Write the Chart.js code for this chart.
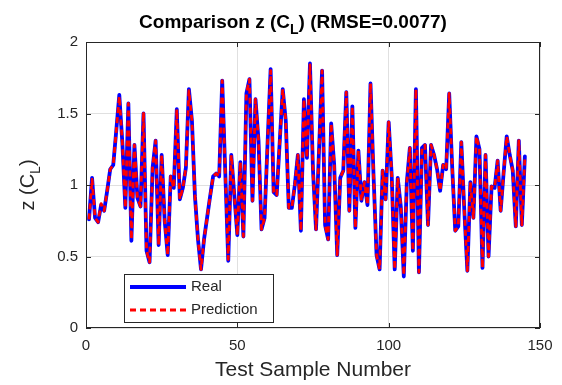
<!DOCTYPE html>
<html>
<head>
<meta charset="utf-8">
<script src="https://cdn.jsdelivr.net/npm/chart.js@4/dist/chart.umd.min.js"></script>
<style>
  html, body { margin: 0; padding: 0; background: #fff; }
  #wrap { width: 562px; height: 385px; }
</style>
</head>
<body>
<div id="wrap"><canvas id="myChart" width="562" height="385"></canvas></div>
<script>
// data
const realValues = [
  0.76, 1.05, 0.77, 0.74, 0.86, 0.82, 0.96, 1.11, 1.14, 1.38,
  1.63, 1.30, 0.84, 1.57, 0.61, 1.28, 0.91, 0.85, 1.50, 0.54,
  0.46, 1.12, 1.31, 0.58, 1.21, 0.75, 0.51, 1.06, 0.98, 1.53,
  0.90, 0.98, 1.12, 1.67, 1.45, 0.92, 0.62, 0.41, 0.62, 0.77,
  0.92, 1.06, 1.08, 1.06, 1.73, 1.10, 0.47, 1.21, 0.93, 0.65,
  1.16, 0.64, 1.64, 1.74, 0.89, 1.60, 1.31, 0.69, 0.77, 1.30,
  1.81, 0.95, 0.93, 1.30, 1.67, 1.45, 0.84, 0.84, 1.00, 1.21,
  0.68, 1.60, 1.19, 1.85, 1.10, 0.69, 1.25, 1.80, 0.72, 0.62,
  1.43, 1.14, 0.51, 1.05, 1.10, 1.65, 0.82, 1.55, 0.70, 1.24,
  0.89, 1.02, 0.86, 1.71, 1.07, 0.51, 0.41, 1.10, 0.90, 1.44,
  1.07, 0.41, 1.05, 0.85, 0.36, 1.02, 1.26, 0.54, 1.67, 0.39,
  1.26, 1.28, 0.72, 1.28, 1.21, 1.11, 0.96, 1.14, 1.11, 1.64,
  1.12, 0.68, 0.71, 1.30, 0.82, 0.40, 1.02, 0.77, 1.34, 1.25,
  0.42, 1.21, 0.50, 0.99, 0.98, 1.17, 0.82, 1.09, 1.34, 1.21,
  1.10, 0.71, 1.31, 0.72, 1.20
];
const predValues = [
  0.76, 1.04, 0.77, 0.74, 0.87, 0.82, 0.96, 1.11, 1.14, 1.38,
  1.62, 1.30, 0.84, 1.57, 0.62, 1.28, 0.91, 0.85, 1.51, 0.54,
  0.46, 1.12, 1.31, 0.58, 1.21, 0.75, 0.51, 1.06, 0.98, 1.53,
  0.90, 0.98, 1.12, 1.66, 1.45, 0.92, 0.62, 0.41, 0.62, 0.77,
  0.92, 1.06, 1.08, 1.06, 1.73, 1.10, 0.48, 1.21, 0.93, 0.65,
  1.16, 0.64, 1.64, 1.74, 0.89, 1.60, 1.31, 0.69, 0.77, 1.30,
  1.80, 0.95, 0.93, 1.30, 1.67, 1.45, 0.84, 0.84, 1.00, 1.21,
  0.68, 1.60, 1.19, 1.84, 1.10, 0.69, 1.25, 1.80, 0.72, 0.62,
  1.43, 1.14, 0.51, 1.05, 1.10, 1.65, 0.82, 1.55, 0.70, 1.24,
  0.89, 1.02, 0.86, 1.71, 1.07, 0.51, 0.41, 1.10, 0.90, 1.44,
  1.07, 0.41, 1.05, 0.85, 0.37, 1.02, 1.26, 0.54, 1.67, 0.39,
  1.26, 1.28, 0.72, 1.28, 1.21, 1.11, 0.96, 1.14, 1.11, 1.64,
  1.12, 0.68, 0.71, 1.30, 0.82, 0.40, 1.02, 0.77, 1.34, 1.25,
  0.42, 1.21, 0.50, 0.99, 0.98, 1.17, 0.82, 1.09, 1.34, 1.21,
  1.10, 0.71, 1.31, 0.72, 1.20
];
const sampleNumbers = realValues.map((v, i) => i + 1);
const xTicks = [0, 50, 100, 150];
const yTicks = [0, 0.5, 1, 1.5, 2];

const FONT = "'Liberation Sans', Arial, Helvetica, sans-serif";
const INK = '#262626';

// draws text pieces, some of them as subscripts
function drawRich(ctx, parts, size, weight, x, y) {
  const subSize = Math.round(size * 0.72);
  let w = 0;
  parts.forEach(p => {
    ctx.font = weight + ' ' + (p.sub ? subSize : size) + 'px ' + FONT;
    p.w = ctx.measureText(p.t).width;
    w += p.w;
  });
  let cx = x - w / 2;
  parts.forEach(p => {
    ctx.font = weight + ' ' + (p.sub ? subSize : size) + 'px ' + FONT;
    ctx.fillText(p.t, cx, p.sub ? y + size * 0.32 : y);
    cx += p.w;
  });
}

const matlabLook = {
  id: 'matlabLook',
  afterDatasetsDraw(chart) {
    const { ctx, chartArea: a, scales: { x, y } } = chart;
    ctx.save();
    ctx.strokeStyle = INK;
    ctx.lineWidth = 1;

    // box around axes
    ctx.strokeRect(Math.round(a.left) + 0.5, Math.round(a.top) + 0.5,
      Math.round(a.right - a.left) - 1, Math.round(a.bottom - a.top) - 1);

    // inward ticks
    ctx.beginPath();
    x.ticks.forEach(t => {
      const px = Math.round(x.getPixelForValue(t.value)) + 0.5;
      ctx.moveTo(px, a.bottom); ctx.lineTo(px, a.bottom - 5);
      ctx.moveTo(px, a.top); ctx.lineTo(px, a.top + 5);
    });
    y.ticks.forEach(t => {
      const py = Math.round(y.getPixelForValue(t.value)) + 0.5;
      ctx.moveTo(a.left, py); ctx.lineTo(a.left + 5, py);
      ctx.moveTo(a.right, py); ctx.lineTo(a.right - 5, py);
    });
    ctx.stroke();

    // legend
    const lx = 124, ly = 274, lw = 149, lh = 48;
    ctx.fillStyle = '#fff';
    ctx.fillRect(lx, ly, lw, lh);
    ctx.strokeStyle = '#262626';
    ctx.strokeRect(lx + 0.5, ly + 0.5, lw, lh);
    chart.data.datasets.forEach((ds, i) => {
      const yy = ly + 13 + i * 23;
      ctx.strokeStyle = ds.borderColor;
      ctx.lineWidth = ds.borderWidth;
      ctx.setLineDash(ds.borderDash || []);
      ctx.beginPath();
      ctx.moveTo(lx + 6, yy);
      ctx.lineTo(lx + 62, yy);
      ctx.stroke();
      ctx.setLineDash([]);
      ctx.fillStyle = INK;
      ctx.font = '15px ' + FONT;
      ctx.textBaseline = 'middle';
      ctx.fillText(ds.label, lx + 67, yy);
    });

    // title and y label with subscript L
    ctx.fillStyle = '#000';
    ctx.textBaseline = 'alphabetic';
    drawRich(ctx, [{ t: 'Comparison z (C' }, { t: 'L', sub: true }, { t: ') (RMSE=0.0077)' }],
      19, 'bold', 293, 28);

    ctx.fillStyle = INK;
    ctx.translate(34, (a.top + a.bottom) / 2);
    ctx.rotate(-Math.PI / 2);
    drawRich(ctx, [{ t: 'z (C' }, { t: 'L', sub: true }, { t: ')' }], 20, 'normal', 0, 0);
    ctx.restore();
  }
};

const ctx = document.getElementById('myChart').getContext('2d');

const chart = new Chart(ctx, {
  type: 'line',
  data: {
    labels: sampleNumbers,
    datasets: [{
      label: 'Real',
      data: sampleNumbers.map((n, i) => ({ x: n, y: realValues[i] })),
      borderColor: '#0000ff',
      borderWidth: 3.8,
      borderJoinStyle: 'round',
      borderCapStyle: 'round',
      pointRadius: 0,
      tension: 0,
      order: 2
    },
    {
      label: 'Prediction',
      data: sampleNumbers.map((n, i) => ({ x: n, y: predValues[i] })),
      borderColor: '#ff0000',
      borderWidth: 2.8,
      borderDash: [6, 4],
      borderJoinStyle: 'round',
      pointRadius: 0,
      tension: 0,
      order: 1
    }]
  },
  options: {
    responsive: false,
    animation: false,
    layout: { padding: { left: 0, right: 22, top: 42, bottom: 0 } },
    plugins: { legend: { display: false }, tooltip: { enabled: false } },
    scales: {
      x: {
        type: 'linear',
        min: 0, max: 150,
        afterBuildTicks: s => { s.ticks = xTicks.map(v => ({ value: v })); },
        afterFit: s => { s.height = 57; },
        grid: { color: '#e0e0e0', drawTicks: false },
        border: { display: false },
        ticks: { color: INK, font: { size: 15, family: FONT }, padding: 9, maxRotation: 0 },
        title: { display: true, text: 'Test Sample Number', color: INK,
          font: { size: 21, family: FONT }, padding: { top: 0, bottom: 2 } }
      },
      y: {
        min: 0, max: 2,
        afterBuildTicks: s => { s.ticks = yTicks.map(v => ({ value: v })); },
        afterFit: s => { s.width = 86; },
        grid: { color: '#e0e0e0', drawTicks: false },
        border: { display: false },
        ticks: { color: INK, font: { size: 15, family: FONT }, padding: 8,
          callback: v => String(v) }
      }
    }
  },
  plugins: [matlabLook]
});
</script>
</body>
</html>
